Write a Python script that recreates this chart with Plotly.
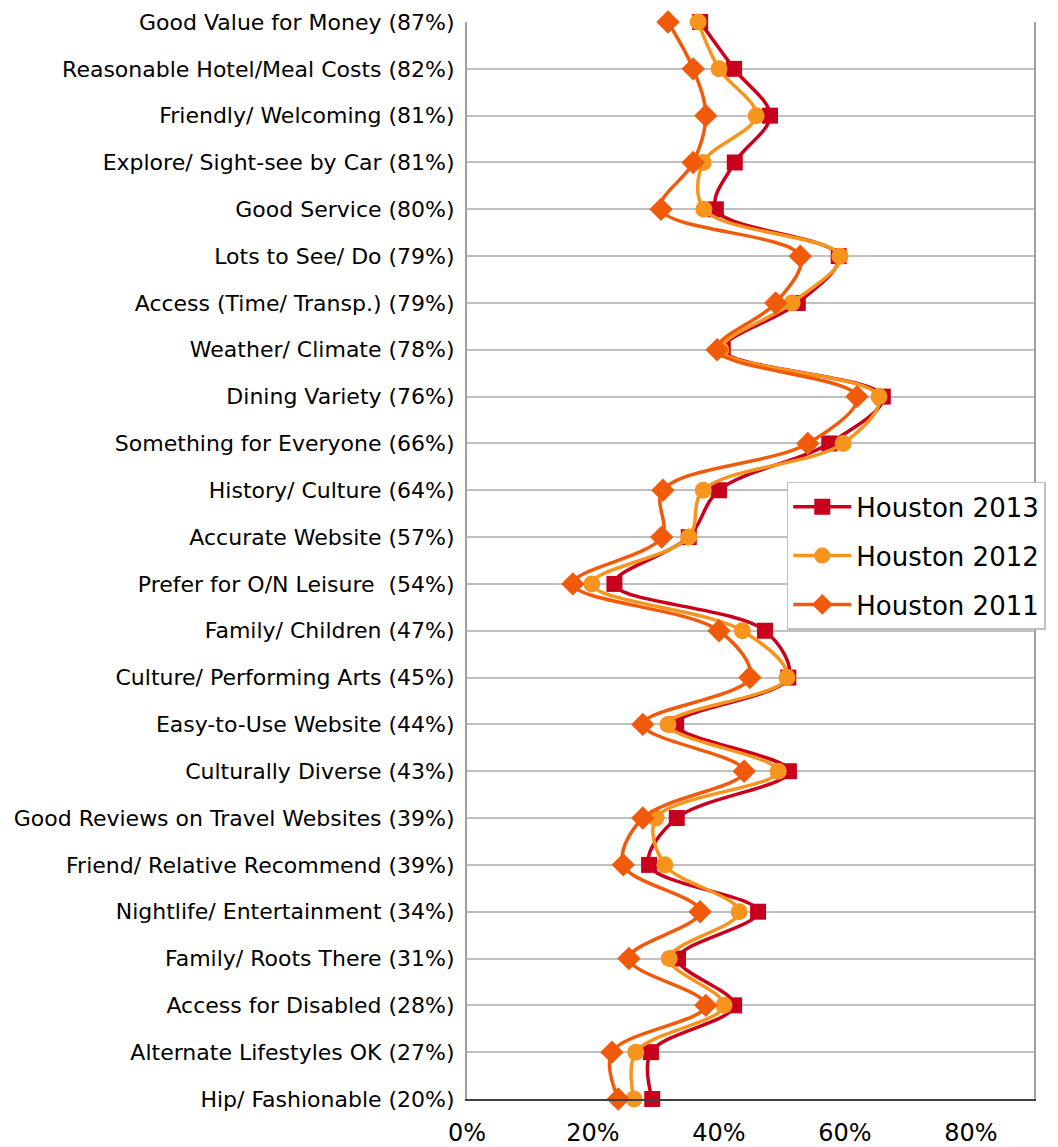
import plotly.graph_objects as go

categories = [
    "Good Value for Money (87%)",
    "Reasonable Hotel/Meal Costs (82%)",
    "Friendly/ Welcoming (81%)",
    "Explore/ Sight-see by Car (81%)",
    "Good Service (80%)",
    "Lots to See/ Do (79%)",
    "Access (Time/ Transp.) (79%)",
    "Weather/ Climate (78%)",
    "Dining Variety (76%)",
    "Something for Everyone (66%)",
    "History/ Culture (64%)",
    "Accurate Website (57%)",
    "Prefer for O/N Leisure\u00a0 (54%)",
    "Family/ Children (47%)",
    "Culture/ Performing Arts (45%)",
    "Easy-to-Use Website (44%)",
    "Culturally Diverse (43%)",
    "Good Reviews on Travel Websites (39%)",
    "Friend/ Relative Recommend (39%)",
    "Nightlife/ Entertainment (34%)",
    "Family/ Roots There (31%)",
    "Access for Disabled (28%)",
    "Alternate Lifestyles OK (27%)",
    "Hip/ Fashionable (20%)",
]

houston_2013 = [0.37, 0.424, 0.481, 0.425, 0.395, 0.59, 0.525, 0.406, 0.66, 0.575, 0.40, 0.352,
                0.234, 0.473, 0.51, 0.332, 0.511, 0.333, 0.289, 0.462, 0.335, 0.424, 0.292, 0.294]
houston_2012 = [0.367, 0.40, 0.459, 0.375, 0.376, 0.592, 0.516, 0.403, 0.654, 0.597, 0.375, 0.352,
                0.198, 0.437, 0.508, 0.319, 0.494, 0.30, 0.314, 0.432, 0.321, 0.408, 0.268, 0.265]
houston_2011 = [0.319, 0.359, 0.379, 0.359, 0.308, 0.529, 0.49, 0.397, 0.619, 0.541, 0.311, 0.309,
                0.168, 0.40, 0.449, 0.279, 0.44, 0.279, 0.248, 0.37, 0.257, 0.379, 0.23, 0.24]

x_ticks = [0, 0.2, 0.4, 0.6, 0.8]

series = [
    ("Houston 2013", houston_2013, "#C8001E", "square", 16),
    ("Houston 2012", houston_2012, "#F7941E", "circle", 17),
    ("Houston 2011", houston_2011, "#F15A0A", "diamond", 18),
]

fig = go.Figure()
for name, vals, color, sym, size in series:
    fig.add_trace(go.Scatter(
        x=vals, y=categories, name=name, mode="lines+markers",
        legendgroup=name,
        line=dict(color=color, width=3.5, shape="spline", smoothing=1.0),
        marker=dict(symbol=sym, size=size, color=color, line=dict(width=0)),
        cliponaxis=False,
    ))

# page body adds an 8px offset, so the figure is 8px smaller and margins shifted
fig.update_layout(
    width=1050, height=1139,
    margin=dict(l=459, r=24, t=14, b=48, autoexpand=False),
    paper_bgcolor="white", plot_bgcolor="white",
    font=dict(family="DejaVu Sans, Verdana, sans-serif", color="black"),
    showlegend=True,
    legend=dict(
        x=0.564, y=0.573, xanchor="left", yanchor="top",
        bgcolor="white", bordercolor="#C0C0C0", borderwidth=1.5,
        font=dict(size=26, color="black"),
        itemwidth=58, tracegroupgap=12,
    ),
)

fig.update_xaxes(
    range=[0, 0.9], tickvals=x_ticks, tickformat=".0%",
    showgrid=False, zeroline=False,
    showline=True, linecolor="#404040", linewidth=2,
    mirror=False, ticks="", tickfont=dict(size=24),
    ticklabelstandoff=11, automargin=False,
)
fig.update_yaxes(
    type="category", categoryorder="array", categoryarray=categories,
    range=[len(categories) - 1, 0],
    showgrid=True, gridcolor="#C0C0C0", gridwidth=1.5,
    zeroline=False, showline=True, linecolor="#A0A0A0", linewidth=2,
    mirror=True, ticks="", tickfont=dict(size=22),
    ticklabelstandoff=6, automargin=False,
)

fig.write_html("out.html")
